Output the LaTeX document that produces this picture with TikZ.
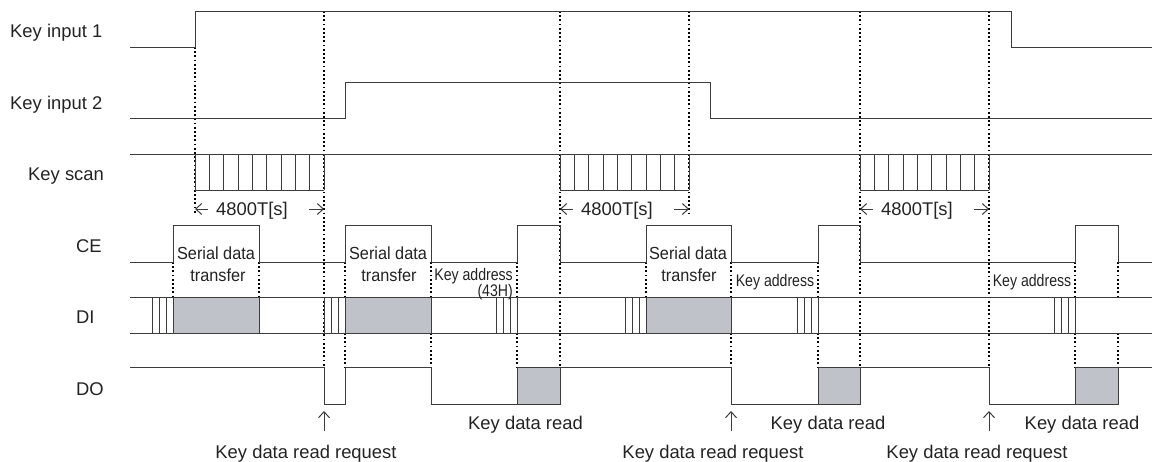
\documentclass[tikz,border=0pt]{standalone}
\usepackage{fontspec}
\setmainfont{Liberation Sans}
\usetikzlibrary{arrows.meta}
\definecolor{wave}{RGB}{60,60,60}
\definecolor{shade}{RGB}{191,194,201}
\definecolor{txt}{RGB}{35,35,35}
\newcommand{\condtxt}[2]{\scalebox{#1}[1]{#2}}
\begin{document}
\begin{tikzpicture}[x=1pt,y=-1pt,
  wv/.style={draw=wave,line width=1pt},
  dotl/.style={draw=black,line width=1.9pt,dash pattern=on 1.8pt off 2.4pt},
  lbl/.style={inner sep=0pt,anchor=base,text=txt,font=\fontsize{18.4}{22}\selectfont},
  lblw/.style={lbl,anchor=base west},
  sml/.style={inner sep=0pt,anchor=base,text=txt,font=\fontsize{17.5}{20}\selectfont},
  tiny/.style={inner sep=0pt,anchor=base,text=txt,font=\fontsize{16.8}{20}\selectfont},
  barb/.style={draw=wave,line width=1pt,-{Straight Barb[length=6pt,width=11pt]}},
  boxg/.style={fill=shade,draw=wave,line width=1pt}]
\useasboundingbox (0,0) rectangle (1154,461);

% ---------- labels on the left ----------
\node[lblw] (lk1) at (10,37.5) {Key input 1};
\node[lblw] (lk2) at (10,109) {Key input 2};
\node[lblw] (lks) at (28,180) {Key scan};
\node[lblw] (lce) at (76,252.3) {CE};
\node[lblw] (ldi) at (76,323.3) {DI};
\node[lblw] (ldo) at (76,395.7) {DO};

% ---------- dotted guide lines ----------
\draw[dotl] (195,47) -- (195,213);
\draw[dotl] (324,11) -- (324,367);
\draw[dotl] (560,11) -- (560,367);
\draw[dotl] (689,11) -- (689,213);
\draw[dotl] (860,11) -- (860,367);
\draw[dotl] (989,11) -- (989,367);
\foreach \x in {173,259,345,431,517,646,731,818,1075,1118}
  \draw[dotl] (\x,262) -- (\x,297);
\foreach \x in {345,431,517,731,818,1075,1118}
  \draw[dotl] (\x,333) -- (\x,367);

% ---------- Key input 1 / 2 ----------
\draw[wv] (130,47) -- (195,47) -- (195,11) -- (1011,11) -- (1011,47) -- (1152,47);
\draw[wv] (130,118) -- (345,118) -- (345,82) -- (710,82) -- (710,118) -- (1152,118);

% ---------- Key scan ----------
\draw[wv] (130,154) -- (1152,154);
\foreach \s [count=\i] in {195,560,860} {
  \draw[wv] (\s,190) -- (\s+129,190);
  \foreach \k in {0,...,9}
    \draw[wv] (\s+\k*14.333,154) -- (\s+\k*14.333,190);
  \coordinate (sa\i) at (\s+13,209);
  \coordinate (sb\i) at (\s,209);
  \coordinate (sc\i) at (\s+114,209);
  \coordinate (sd\i) at (\s+129,209);
  \draw[barb] (sa\i) -- (sb\i);
  \draw[barb] (sc\i) -- (sd\i);
  \node[lbl] (tt\i) at (\s+57,215) {4800T[s]};
}

% ---------- CE ----------
\draw[wv] (130,262) -- (173,262) -- (173,225) -- (259,225) -- (259,262)
  -- (345,262) -- (345,225) -- (431,225) -- (431,262)
  -- (517,262) -- (517,225) -- (560,225) -- (560,262)
  -- (646,262) -- (646,225) -- (731,225) -- (731,262)
  -- (818,262) -- (818,225) -- (860,225) -- (860,262)
  -- (1075,262) -- (1075,225) -- (1118,225) -- (1118,262) -- (1152,262);

% ---------- DI ----------
\draw[boxg] (173,297) rectangle (259,333);
\draw[boxg] (345,297) rectangle (431,333);
\draw[boxg] (646,297) rectangle (731,333);
\draw[wv] (130,297) -- (1152,297);
\draw[wv] (130,333) -- (1152,333);
\foreach \x in {152,159,166, 324,331,338, 496,503,510,517, 625,632,639,
                797,804,811,818, 1054,1061,1068,1075}
  \draw[wv] (\x,297) -- (\x,333);

% ---------- DO ----------
\draw[boxg] (517,367) rectangle (560,404);
\draw[boxg] (818,367) rectangle (860,404);
\draw[boxg] (1075,367) rectangle (1118,404);
\draw[wv] (130,367) -- (324,367) -- (324,404) -- (345,404) -- (345,367)
  -- (431,367) -- (431,404) -- (517,404);
\draw[wv] (560,367) -- (731,367) -- (731,404) -- (818,404);
\draw[wv] (860,367) -- (989,367) -- (989,404) -- (1075,404);
\draw[wv] (1118,367) -- (1152,367);

% ---------- Serial data transfer labels ----------
\node[sml] (sd1a) at (216,259.3) {\condtxt{0.93}{Serial data}};
\node[sml] (sd1b) at (218,281.7) {\condtxt{0.93}{transfer}};
\node[sml] (sd2a) at (388,259.3) {\condtxt{0.93}{Serial data}};
\node[sml] (sd2b) at (389,281.7) {\condtxt{0.93}{transfer}};
\node[sml] (sd3a) at (688,259.3) {\condtxt{0.93}{Serial data}};
\node[sml] (sd3b) at (689,281.7) {\condtxt{0.93}{transfer}};

% ---------- Key address labels ----------
\node[tiny,anchor=base east] (ka1) at (513,280) {\condtxt{0.84}{Key address}};
\node[tiny,anchor=base east] (ka1b) at (513,296) {\condtxt{0.84}{(43H)}};
\node[tiny] (ka2) at (775,286) {\condtxt{0.84}{Key address}};
\node[tiny] (ka3) at (1032,286) {\condtxt{0.84}{Key address}};

% ---------- Key data read ----------
\node[lbl] (kr1) at (525.5,429.3) {Key data read};
\node[lbl] (kr2) at (828,429.3) {Key data read};
\node[lbl] (kr3) at (1082,429.3) {Key data read};

% ---------- Key data read request ----------
\node[lbl] (rq1) at (306,458) {Key data read request};
\node[lbl] (rq2) at (713,458) {Key data read request};
\node[lbl] (rq3) at (977,458) {Key data read request};
\foreach \x [count=\i] in {324,731,989} {
  \coordinate (ua\i) at (\x,431);
  \coordinate (ub\i) at (\x,411);
  \draw[barb] (ua\i) -- (ub\i);
}
\end{tikzpicture}
\end{document}
